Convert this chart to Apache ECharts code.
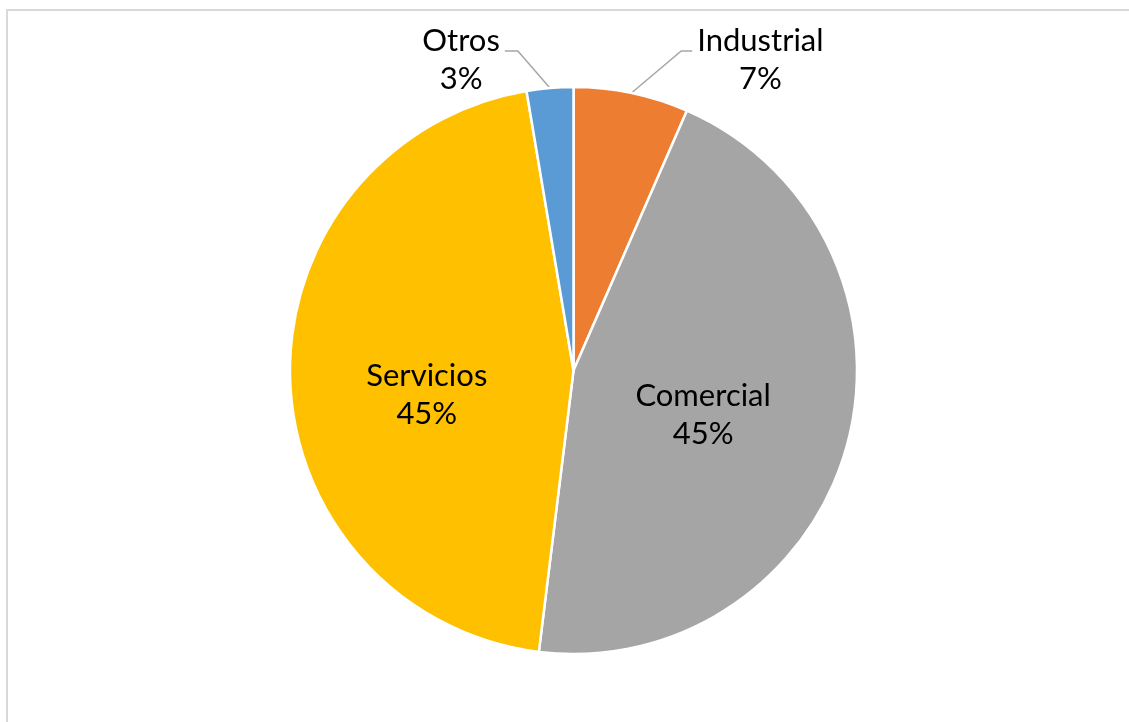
<!DOCTYPE html>
<html>
<head>
<meta charset="utf-8">
<script src="https://cdn.jsdelivr.net/npm/echarts@6/dist/echarts.min.js"></script>
<style>
  html, body { margin: 0; padding: 0; background: #ffffff; }
  #chart { width: 1129px; height: 722px; }
</style>
</head>
<body>
<div id="chart"></div>
<script>
// Consumption share by sector (percent)
const categories = ['Industrial', 'Comercial', 'Servicios', 'Otros'];
const shares = [6.55, 45.4, 45.4, 2.65];

// Styling per slice
const sliceColors = ['#ED7D31', '#A5A5A5', '#FFC000', '#5B9BD5'];
const labelPlacement = ['outside', 'inside', 'inside', 'outside'];
const leaderLengths = [[43, 52], null, null, [37, 42]];
const leaderTail = [11, 0, 0, 13];
const labelNudge = [[0, 9], [-10, 6], [-2, 21], [0, 9]];

const FONT = 'Lato, "Open Sans", sans-serif';

const pieData = categories.map((name, i) => {
  const item = {
    name: name,
    value: shares[i],
    itemStyle: { color: sliceColors[i] },
    label: { position: labelPlacement[i] }
  };
  if (leaderLengths[i]) {
    item.labelLine = { show: true, length: leaderLengths[i][0], length2: leaderLengths[i][1] };
  } else {
    item.labelLine = { show: false };
  }
  return item;
});

const chart = echarts.init(document.getElementById('chart'), null, { renderer: 'canvas' });

chart.setOption({
  backgroundColor: '#ffffff',
  animation: false,
  graphic: [{
    type: 'rect',
    z: -1,
    shape: { x: 7, y: 10, width: 1200, height: 800 },
    style: { fill: 'none', stroke: '#d9d9d9', lineWidth: 2 },
    silent: true
  }],
  series: [{
    type: 'pie',
    center: [573.5, 370.5],
    radius: 283.5,
    startAngle: 90,
    clockwise: true,
    avoidLabelOverlap: false,
    emphasis: { disabled: true },
    itemStyle: { borderColor: '#ffffff', borderWidth: 2.5 },
    label: {
      show: true,
      color: '#000000',
      fontFamily: FONT,
      fontSize: 31,
      formatter: p => `{t|${p.name}}\n{t|${Math.round(p.percent)}%}`,
      rich: {
        t: { align: 'center', fontFamily: FONT, fontSize: 31, lineHeight: 38, color: '#000000' }
      }
    },
    labelLine: {
      lineStyle: { color: '#a6a6a6', width: 1.5 },
      smooth: false
    },
    labelLayout: params => {
      const i = params.dataIndex;
      const n = labelNudge[i];
      const out = { dx: n[0], dy: n[1] };
      const pts = params.labelLinePoints;
      if (pts && pts.length === 3 && leaderTail[i]) {
        // straight leader from the rim to a short horizontal tail next to the text
        const start = pts[0];
        const end = pts[2];
        const side = end[0] >= start[0] ? 1 : -1;
        out.labelLinePoints = [
          [start[0], start[1]],
          [end[0] - side * leaderTail[i], end[1]],
          [end[0], end[1]]
        ];
      }
      return out;
    },
    data: pieData
  }]
});
</script>
</body>
</html>
